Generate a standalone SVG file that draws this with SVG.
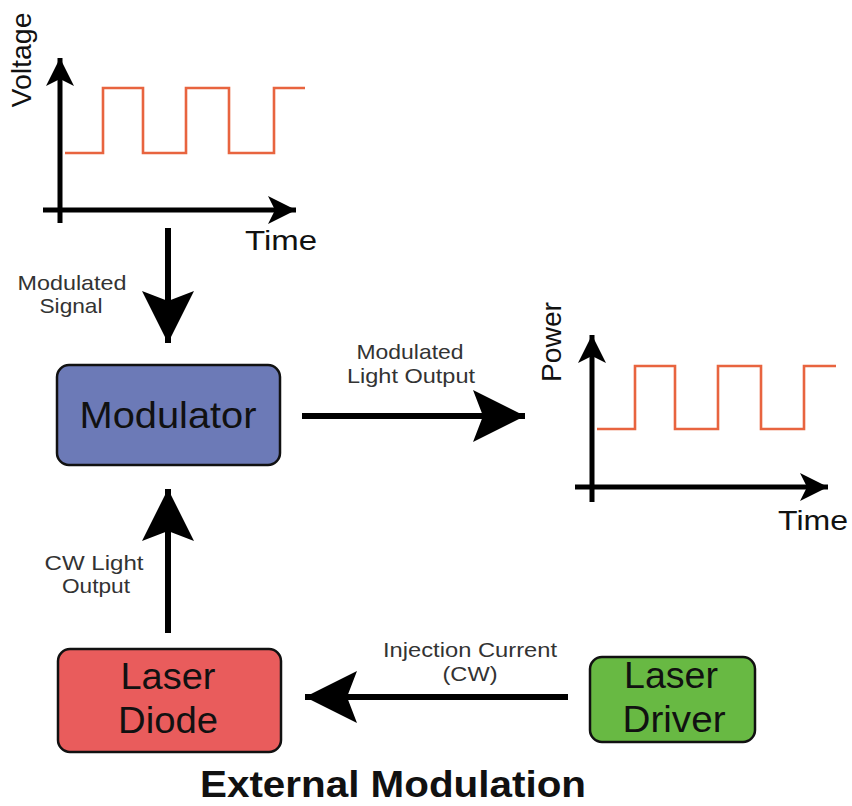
<svg xmlns="http://www.w3.org/2000/svg" width="852" height="806" viewBox="0 0 852 806">
  <style>
    .box { stroke: #111; stroke-width: 2.5; }
    .big { font-family: "Liberation Sans", Arial, sans-serif; font-size: 37px; fill: #111; text-anchor: middle; }
    .small { font-family: "Liberation Sans", Arial, sans-serif; font-size: 21px; fill: #333; text-anchor: middle; }
    .axislbl { font-family: "Liberation Sans", Arial, sans-serif; font-size: 28px; fill: #111; }
    .title { font-family: "Liberation Sans", Arial, sans-serif; font-size: 36px; font-weight: bold; fill: #111; text-anchor: middle; }
    .axis { stroke: #000; stroke-width: 5; fill: none; }
    .wave { stroke: #e8643f; stroke-width: 2.6; fill: none; }
    .conn { stroke: #000; stroke-width: 6; fill: none; }
  </style>
  <defs>
    <marker id="bigHead" markerUnits="userSpaceOnUse" viewBox="-54 -28 56 56" refX="0" refY="0" markerWidth="56" markerHeight="56" orient="auto">
      <path d="M0,0 L-52,-26 L-42,0 L-52,26 Z" fill="#000"/>
    </marker>
    <marker id="axisHead" markerUnits="userSpaceOnUse" viewBox="-30 -15 32 30" refX="0" refY="0" markerWidth="32" markerHeight="30" orient="auto">
      <path d="M0,0 L-28,-14 L-21,0 L-28,14 Z" fill="#000"/>
    </marker>
  </defs>

  <!-- voltage vs time input chart -->
  <g id="voltage-chart">
    <path class="wave" d="M65,153 H103 V88 H143 V153 H186 V88 H229 V153 H274 V88 H305"/>
    <line class="axis" x1="60" y1="223" x2="60" y2="58" marker-end="url(#axisHead)"/>
    <line class="axis" x1="43" y1="210" x2="296" y2="210" marker-end="url(#axisHead)"/>
    <text class="axislbl" text-anchor="middle" transform="translate(31,60) rotate(-90)" textLength="95" lengthAdjust="spacingAndGlyphs">Voltage</text>
    <text class="axislbl" x="245" y="250" textLength="72" lengthAdjust="spacingAndGlyphs">Time</text>
  </g>

  <!-- power vs time output chart -->
  <g id="power-chart">
    <path class="wave" d="M597,429 H635 V366 H675 V429 H718 V366 H761 V429 H804 V366 H836"/>
    <line class="axis" x1="592" y1="502" x2="592" y2="335" marker-end="url(#axisHead)"/>
    <line class="axis" x1="575" y1="487" x2="828" y2="487" marker-end="url(#axisHead)"/>
    <text class="axislbl" text-anchor="middle" transform="translate(561,342) rotate(-90)" textLength="80" lengthAdjust="spacingAndGlyphs">Power</text>
    <text class="axislbl" x="778" y="530" textLength="70" lengthAdjust="spacingAndGlyphs">Time</text>
  </g>

  <g id="modulator">
    <rect class="box" x="57" y="365" width="223" height="100" rx="12" fill="#6c7ab7"/>
    <text class="big" x="168" y="428" textLength="177" lengthAdjust="spacingAndGlyphs">Modulator</text>
  </g>

  <g id="laser-diode">
    <rect class="box" x="58" y="649" width="223" height="103" rx="12" fill="#e95c5c"/>
    <text class="big" x="168" y="689" textLength="95" lengthAdjust="spacingAndGlyphs">Laser</text>
    <text class="big" x="168" y="733" textLength="100" lengthAdjust="spacingAndGlyphs">Diode</text>
  </g>

  <g id="laser-driver">
    <rect class="box" x="590" y="657" width="165" height="85" rx="12" fill="#68b943"/>
    <text class="big" x="671" y="688" textLength="94" lengthAdjust="spacingAndGlyphs">Laser</text>
    <text class="big" x="674" y="732" textLength="103" lengthAdjust="spacingAndGlyphs">Driver</text>
  </g>

  <g id="connectors">
    <line class="conn" x1="168" y1="228" x2="168" y2="343" marker-end="url(#bigHead)"/>
    <line class="conn" x1="302" y1="416" x2="525" y2="416" marker-end="url(#bigHead)"/>
    <line class="conn" x1="168" y1="633" x2="168" y2="489" marker-end="url(#bigHead)"/>
    <line class="conn" x1="568" y1="697" x2="305" y2="697" marker-end="url(#bigHead)"/>
  </g>

  <g id="connector-labels">
    <text class="small" x="72" y="290" textLength="109" lengthAdjust="spacingAndGlyphs">Modulated</text>
    <text class="small" x="71" y="313" textLength="63" lengthAdjust="spacingAndGlyphs">Signal</text>
    <text class="small" x="410" y="359" textLength="107" lengthAdjust="spacingAndGlyphs">Modulated</text>
    <text class="small" x="411" y="383" textLength="128" lengthAdjust="spacingAndGlyphs">Light Output</text>
    <text class="small" x="94" y="570" textLength="99" lengthAdjust="spacingAndGlyphs">CW Light</text>
    <text class="small" x="96" y="593" textLength="68" lengthAdjust="spacingAndGlyphs">Output</text>
    <text class="small" x="470" y="657" textLength="174" lengthAdjust="spacingAndGlyphs">Injection Current</text>
    <text class="small" x="470" y="681" textLength="55" lengthAdjust="spacingAndGlyphs">(CW)</text>
  </g>

  <text class="title" x="393" y="797" textLength="386" lengthAdjust="spacingAndGlyphs">External Modulation</text>
</svg>
